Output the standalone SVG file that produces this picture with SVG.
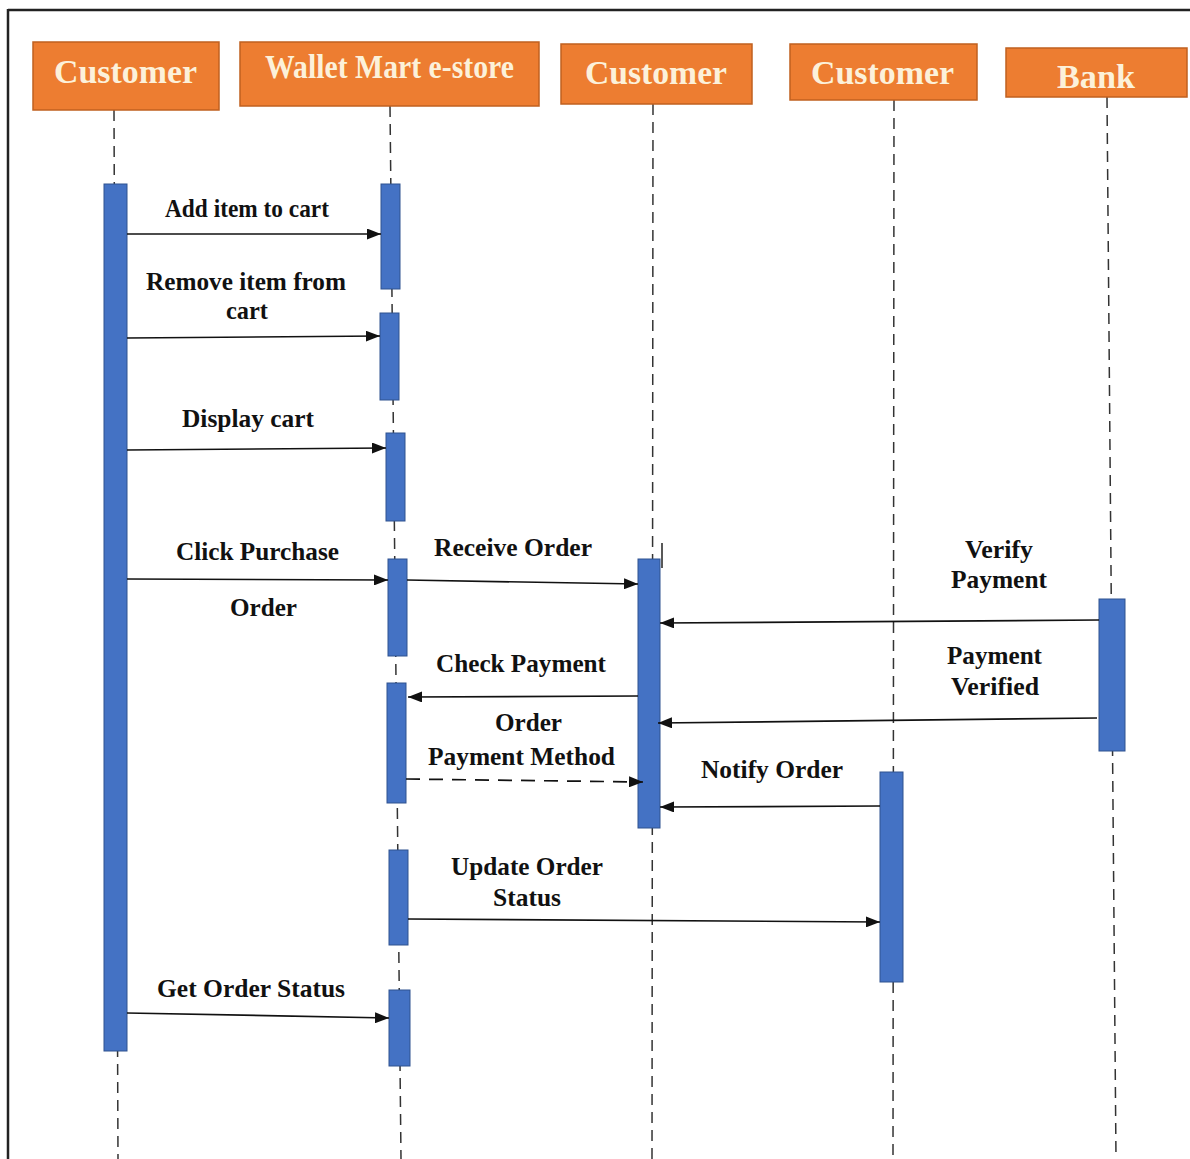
<svg xmlns="http://www.w3.org/2000/svg" width="1190" height="1159" viewBox="0 0 1190 1159">
<style>
.hdr{fill:#ED7D31;stroke:#C0601F;stroke-width:1.5}
.ht{font-family:"Liberation Serif",serif;font-weight:bold;font-size:33px;fill:#FCF1DA;text-anchor:middle}
.life{stroke:#333;stroke-width:1.5;stroke-dasharray:11 7;fill:none}
.act{fill:#4472C4;stroke:#2F528F;stroke-width:1}
.msg{stroke:#111;stroke-width:1.7;fill:none;marker-end:url(#ah)}
.dash{stroke-dasharray:14 9}
.lb{font-family:"Liberation Serif",serif;font-weight:bold;font-size:25px;fill:#111;text-anchor:middle}
</style>
<defs>
<marker id="ah" markerUnits="userSpaceOnUse" markerWidth="15" markerHeight="11" refX="14" refY="5.5" orient="auto">
<path d="M0,0 L14,5.5 L0,11 Z" fill="#111"/>
</marker>
</defs>
<rect width="1190" height="1159" fill="#fff"/>
<g id="frame">
<line x1="8" y1="10" x2="1190" y2="10" stroke="#222" stroke-width="2.5"/>
<line x1="8" y1="9" x2="8" y2="1159" stroke="#222" stroke-width="2.5"/>
</g>
<g id="lifelines">
<line class="life" x1="114" y1="110" x2="118" y2="1159"/>
<line class="life" x1="390" y1="106" x2="401" y2="1159"/>
<line class="life" x1="653" y1="104" x2="652" y2="1159"/>
<line class="life" x1="894" y1="100" x2="893" y2="1159"/>
<line class="life" x1="1107" y1="97" x2="1116" y2="1159"/>
</g>
<g id="customer1"><rect class="hdr" x="33" y="42" width="186" height="68"/><text class="ht" x="125.5" y="83" textLength="143" lengthAdjust="spacingAndGlyphs">Customer</text></g>
<g id="estore"><rect class="hdr" x="240" y="42" width="299" height="64"/><text class="ht" x="389.5" y="78" textLength="249" lengthAdjust="spacingAndGlyphs">Wallet Mart e-store</text></g>
<g id="customer2"><rect class="hdr" x="561" y="44" width="191" height="60"/><text class="ht" x="656" y="84" textLength="142" lengthAdjust="spacingAndGlyphs">Customer</text></g>
<g id="customer3"><rect class="hdr" x="790" y="44" width="187" height="56"/><text class="ht" x="882.5" y="84" textLength="143" lengthAdjust="spacingAndGlyphs">Customer</text></g>
<g id="bank"><rect class="hdr" x="1006" y="48" width="181" height="49"/><text class="ht" x="1096" y="88" textLength="78" lengthAdjust="spacingAndGlyphs">Bank</text></g>
<g id="activations">
<rect class="act" x="104" y="184" width="23" height="867"/>
<rect class="act" x="381" y="184" width="19" height="105"/>
<rect class="act" x="380" y="313" width="19" height="87"/>
<rect class="act" x="386" y="433" width="19" height="88"/>
<rect class="act" x="388" y="559" width="19" height="97"/>
<rect class="act" x="387" y="683" width="19" height="120"/>
<rect class="act" x="389" y="850" width="19" height="95"/>
<rect class="act" x="389" y="990" width="21" height="76"/>
<rect class="act" x="638" y="559" width="22" height="269"/>
<rect class="act" x="880" y="772" width="23" height="210"/>
<rect class="act" x="1099" y="599" width="26" height="152"/>
<line x1="662" y1="543" x2="662" y2="568" stroke="#222" stroke-width="1.5"/>
</g>
<g id="connectors">
<line class="msg" x1="127" y1="234" x2="381" y2="234"/>
<line class="msg" x1="127" y1="338" x2="380" y2="336"/>
<line class="msg" x1="127" y1="450" x2="386" y2="448"/>
<line class="msg" x1="127" y1="579" x2="388" y2="580"/>
<line class="msg" x1="407" y1="580" x2="638" y2="584"/>
<line class="msg" x1="1099" y1="620" x2="660" y2="623"/>
<line class="msg" x1="1097" y1="718" x2="658" y2="723"/>
<line class="msg" x1="638" y1="696" x2="408" y2="697"/>
<line class="msg dash" x1="406" y1="779" x2="643" y2="782"/>
<line class="msg" x1="880" y1="806" x2="660" y2="807"/>
<line class="msg" x1="408" y1="919" x2="880" y2="922"/>
<line class="msg" x1="127" y1="1013" x2="389" y2="1018"/>
</g>
<g id="labels">
<text class="lb" x="247" y="217" textLength="164" lengthAdjust="spacingAndGlyphs">Add item to cart</text>
<text class="lb" x="246" y="290" textLength="200" lengthAdjust="spacingAndGlyphs">Remove item from</text>
<text class="lb" x="247" y="319" textLength="42" lengthAdjust="spacingAndGlyphs">cart</text>
<text class="lb" x="248" y="427" textLength="132" lengthAdjust="spacingAndGlyphs">Display cart</text>
<text class="lb" x="257.5" y="560" textLength="163" lengthAdjust="spacingAndGlyphs">Click Purchase</text>
<text class="lb" x="263.5" y="616" textLength="67" lengthAdjust="spacingAndGlyphs">Order</text>
<text class="lb" x="513" y="556" textLength="158" lengthAdjust="spacingAndGlyphs">Receive Order</text>
<text class="lb" x="999" y="558" textLength="68" lengthAdjust="spacingAndGlyphs">Verify</text>
<text class="lb" x="999" y="588" textLength="96" lengthAdjust="spacingAndGlyphs">Payment</text>
<text class="lb" x="994.5" y="664" textLength="95" lengthAdjust="spacingAndGlyphs">Payment</text>
<text class="lb" x="995" y="695" textLength="88" lengthAdjust="spacingAndGlyphs">Verified</text>
<text class="lb" x="521" y="672" textLength="170" lengthAdjust="spacingAndGlyphs">Check Payment</text>
<text class="lb" x="528.5" y="731" textLength="67" lengthAdjust="spacingAndGlyphs">Order</text>
<text class="lb" x="521.5" y="765" textLength="187" lengthAdjust="spacingAndGlyphs">Payment Method</text>
<text class="lb" x="772" y="778" textLength="142" lengthAdjust="spacingAndGlyphs">Notify Order</text>
<text class="lb" x="527" y="875" textLength="152" lengthAdjust="spacingAndGlyphs">Update Order</text>
<text class="lb" x="527" y="906" textLength="68" lengthAdjust="spacingAndGlyphs">Status</text>
<text class="lb" x="251" y="997" textLength="188" lengthAdjust="spacingAndGlyphs">Get Order Status</text>
</g>
</svg>
